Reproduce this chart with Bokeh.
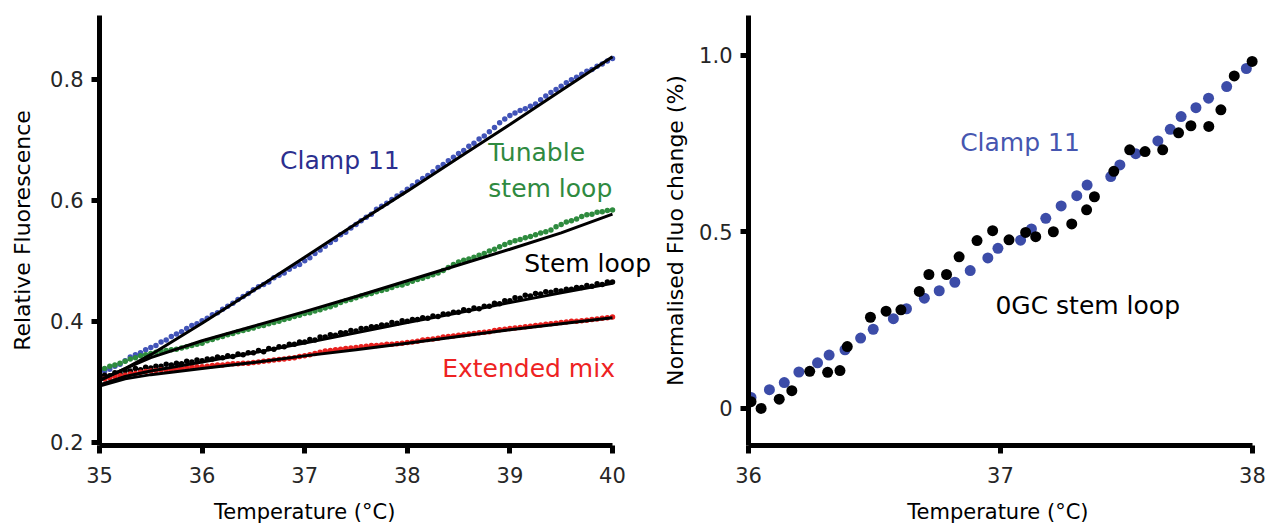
from bokeh.plotting import figure
from bokeh.layouts import row, column
from bokeh.models import Label, FixedTicker
from bokeh.core.properties import value
from bokeh.embed import file_html
from bokeh.resources import INLINE

FONT = "DejaVu Sans"

# ---------------- Left panel data ----------------
temps = [35.00, 35.05, 35.10, 35.15, 35.20, 35.25, 35.30, 35.35, 35.40, 35.45,
         35.50, 35.55, 35.60, 35.65, 35.70, 35.75, 35.80, 35.85, 35.90, 35.95,
         36.00, 36.05, 36.10, 36.15, 36.20, 36.25, 36.30, 36.35, 36.40, 36.45,
         36.50, 36.55, 36.60, 36.65, 36.70, 36.75, 36.80, 36.85, 36.90, 36.95,
         37.00, 37.05, 37.10, 37.15, 37.20, 37.25, 37.30, 37.35, 37.40, 37.45,
         37.50, 37.55, 37.60, 37.65, 37.70, 37.75, 37.80, 37.85, 37.90, 37.95,
         38.00, 38.05, 38.10, 38.15, 38.20, 38.25, 38.30, 38.35, 38.40, 38.45,
         38.50, 38.55, 38.60, 38.65, 38.70, 38.75, 38.80, 38.85, 38.90, 38.95,
         39.00, 39.05, 39.10, 39.15, 39.20, 39.25, 39.30, 39.35, 39.40, 39.45,
         39.50, 39.55, 39.60, 39.65, 39.70, 39.75, 39.80, 39.85, 39.90, 39.95,
         40.00]

clamp11 = [0.315, 0.318, 0.321, 0.326, 0.329, 0.335, 0.341, 0.345, 0.348, 0.353,
           0.357, 0.360, 0.366, 0.369, 0.375, 0.379, 0.383, 0.388, 0.393, 0.396,
           0.401, 0.405, 0.411, 0.414, 0.420, 0.425, 0.430, 0.436, 0.441, 0.446,
           0.452, 0.457, 0.461, 0.465, 0.472, 0.476, 0.480, 0.486, 0.491, 0.494,
           0.500, 0.505, 0.512, 0.518, 0.524, 0.530, 0.535, 0.543, 0.547, 0.554,
           0.560, 0.566, 0.572, 0.577, 0.585, 0.590, 0.595, 0.601, 0.607, 0.612,
           0.618, 0.624, 0.630, 0.636, 0.641, 0.647, 0.654, 0.659, 0.665, 0.671,
           0.677, 0.682, 0.689, 0.694, 0.701, 0.706, 0.713, 0.720, 0.728, 0.734,
           0.740, 0.744, 0.748, 0.751, 0.755, 0.759, 0.766, 0.772, 0.778, 0.783,
           0.788, 0.794, 0.799, 0.803, 0.808, 0.813, 0.816, 0.821, 0.825, 0.830,
           0.834]

tunable = [0.321, 0.322, 0.326, 0.328, 0.331, 0.334, 0.338, 0.340, 0.343, 0.345,
           0.347, 0.349, 0.351, 0.352, 0.353, 0.354, 0.356, 0.358, 0.360, 0.362,
           0.364, 0.368, 0.370, 0.373, 0.375, 0.378, 0.380, 0.383, 0.385, 0.387,
           0.389, 0.392, 0.393, 0.396, 0.398, 0.400, 0.403, 0.405, 0.408, 0.410,
           0.413, 0.414, 0.417, 0.419, 0.422, 0.424, 0.427, 0.431, 0.434, 0.436,
           0.439, 0.442, 0.444, 0.446, 0.449, 0.451, 0.453, 0.456, 0.459, 0.460,
           0.463, 0.466, 0.469, 0.471, 0.474, 0.477, 0.480, 0.484, 0.489, 0.494,
           0.498, 0.501, 0.503, 0.506, 0.509, 0.512, 0.516, 0.519, 0.523, 0.527,
           0.530, 0.533, 0.535, 0.538, 0.540, 0.543, 0.546, 0.548, 0.551, 0.556,
           0.560, 0.564, 0.566, 0.569, 0.573, 0.576, 0.577, 0.580, 0.581, 0.583,
           0.584]

stem_loop = [0.305, 0.311, 0.310, 0.315, 0.314, 0.319, 0.318, 0.322, 0.320, 0.324,
             0.323, 0.326, 0.326, 0.329, 0.328, 0.331, 0.330, 0.334, 0.333, 0.336,
             0.335, 0.338, 0.338, 0.341, 0.340, 0.343, 0.342, 0.346, 0.345, 0.348,
             0.348, 0.352, 0.350, 0.355, 0.354, 0.358, 0.358, 0.362, 0.362, 0.366,
             0.366, 0.370, 0.369, 0.374, 0.374, 0.378, 0.377, 0.381, 0.381, 0.385,
             0.384, 0.388, 0.388, 0.391, 0.391, 0.394, 0.394, 0.398, 0.397, 0.401,
             0.400, 0.403, 0.403, 0.406, 0.405, 0.409, 0.408, 0.412, 0.412, 0.415,
             0.415, 0.419, 0.418, 0.422, 0.421, 0.425, 0.425, 0.430, 0.429, 0.434,
             0.434, 0.439, 0.438, 0.443, 0.442, 0.446, 0.445, 0.449, 0.448, 0.451,
             0.450, 0.453, 0.453, 0.456, 0.456, 0.459, 0.458, 0.462, 0.461, 0.465,
             0.465]

extended = [0.304, 0.305, 0.307, 0.309, 0.310, 0.311, 0.313, 0.314, 0.316, 0.317,
            0.318, 0.319, 0.320, 0.320, 0.321, 0.321, 0.322, 0.323, 0.324, 0.325,
            0.325, 0.326, 0.327, 0.328, 0.328, 0.329, 0.330, 0.330, 0.331, 0.331,
            0.332, 0.333, 0.334, 0.335, 0.336, 0.337, 0.338, 0.339, 0.340, 0.342,
            0.343, 0.345, 0.347, 0.349, 0.351, 0.352, 0.353, 0.354, 0.355, 0.356,
            0.357, 0.358, 0.359, 0.360, 0.360, 0.361, 0.362, 0.362, 0.363, 0.364,
            0.365, 0.366, 0.367, 0.369, 0.370, 0.371, 0.372, 0.374, 0.375, 0.376,
            0.377, 0.378, 0.379, 0.380, 0.381, 0.382, 0.383, 0.385, 0.386, 0.387,
            0.388, 0.389, 0.390, 0.391, 0.392, 0.393, 0.394, 0.395, 0.396, 0.397,
            0.398, 0.399, 0.400, 0.400, 0.401, 0.402, 0.403, 0.404, 0.405, 0.406,
            0.407]

fit_x = [35.0, 35.25, 35.5, 36.0, 36.5, 37.0, 37.5, 38.0, 38.5, 39.0, 39.5, 40.0]
clamp11_fit = [0.302, 0.322, 0.345, 0.397, 0.451, 0.506, 0.561, 0.615, 0.670, 0.725, 0.781, 0.837]
tunable_fit = [0.303, 0.322, 0.340, 0.368, 0.392, 0.416, 0.441, 0.467, 0.493, 0.519, 0.546, 0.577]
stem_fit = [0.295, 0.309, 0.318, 0.333, 0.348, 0.364, 0.381, 0.398, 0.414, 0.431, 0.447, 0.463]
extended_fit = [0.293, 0.305, 0.312, 0.322, 0.332, 0.343, 0.353, 0.364, 0.375, 0.386, 0.396, 0.406]

left_xticks = [35, 36, 37, 38, 39, 40]
left_yticks = [0.2, 0.4, 0.6, 0.8]

# ---------------- Right panel data ----------------
clamp_t = [36.010, 36.083, 36.142, 36.200, 36.274, 36.320, 36.383, 36.445, 36.495, 36.575,
           36.627, 36.698, 36.757, 36.819, 36.880, 36.950, 36.990, 37.080, 37.123, 37.180,
           37.241, 37.303, 37.344, 37.438, 37.474, 37.537, 37.625, 37.674, 37.717, 37.776,
           37.826, 37.898, 37.976]
clamp_norm = [0.031, 0.053, 0.073, 0.103, 0.129, 0.151, 0.166, 0.199, 0.224, 0.254,
              0.282, 0.312, 0.333, 0.357, 0.390, 0.426, 0.453, 0.476, 0.508, 0.538,
              0.573, 0.602, 0.632, 0.656, 0.689, 0.721, 0.757, 0.790, 0.826, 0.851,
              0.878, 0.911, 0.962]

gc0_t = [36.010, 36.050, 36.122, 36.172, 36.243, 36.314, 36.363, 36.392, 36.484, 36.546,
         36.605, 36.678, 36.716, 36.786, 36.836, 36.907, 36.969, 37.034, 37.100, 37.140,
         37.210, 37.283, 37.342, 37.373, 37.450, 37.513, 37.574, 37.644, 37.707, 37.756,
         37.827, 37.875, 37.928, 37.999]
gc0_norm = [0.019, 0.000, 0.026, 0.050, 0.105, 0.102, 0.107, 0.175, 0.258, 0.275,
            0.279, 0.331, 0.379, 0.379, 0.429, 0.475, 0.503, 0.477, 0.498, 0.486,
            0.500, 0.522, 0.562, 0.599, 0.671, 0.732, 0.727, 0.732, 0.780, 0.800,
            0.798, 0.845, 0.941, 0.982]

right_xticks = [36, 37, 38]
right_yticks = [0, 0.5, 1.0]

X_TITLE = "Temperature (°C)"


def style_axes(p):
    for ax in (p.xaxis[0], p.yaxis[0]):
        ax.axis_line_width = 5
        ax.axis_line_color = "black"
        ax.major_tick_line_width = 5
        ax.major_tick_line_color = "black"
        ax.major_tick_out = 8
        ax.major_tick_in = 0
        ax.minor_tick_line_color = None
        ax.major_label_text_font = FONT
        ax.major_label_text_font_size = "21px"
        ax.major_label_text_color = "#262626"
        ax.axis_label_text_font = FONT
        ax.axis_label_text_font_style = "normal"
        ax.axis_label_text_color = "black"
    p.yaxis.axis_label_text_font_size = "22px"
    p.xaxis.major_label_standoff = 13
    p.yaxis.major_label_standoff = 8
    p.grid.visible = False
    p.outline_line_color = None
    p.background_fill_color = "white"
    p.border_fill_color = "white"


def title_strip(main, width, left):
    s = figure(width=width, height=32, x_range=main.x_range, y_range=(0, 1),
               x_axis_type=None, y_axis_type=None, output_backend="svg", toolbar_location=None,
               min_border_left=left, min_border_right=0, min_border_top=0, min_border_bottom=0)
    s.grid.visible = False
    s.outline_line_color = None
    s.text(x=[37.0], y=[0.41], text=[X_TITLE], text_font=value(FONT), text_font_size="21px",
           text_color="black", text_align="center", text_baseline="middle")
    return s


# ---------------- Left figure ----------------
p1 = figure(width=660, height=493, x_range=(35, 40.468), y_range=(0.195, 0.905),
            output_backend="svg", toolbar_location=None,
            min_border_left=99, min_border_right=0, min_border_top=15, min_border_bottom=48)
style_axes(p1)
p1.xaxis.bounds = (35, 40)
p1.xaxis.ticker = FixedTicker(ticks=left_xticks)
p1.yaxis.ticker = FixedTicker(ticks=left_yticks)
p1.yaxis.axis_label = "Relative Fluorescence"
p1.yaxis.axis_label_standoff = 12

BLUE_L = "#4254b8"
GREEN = "#2e8b3e"
RED = "#e8211f"

p1.scatter(temps, clamp11, size=5.5, color=BLUE_L, line_color=None)
p1.scatter(temps, tunable, size=5.5, color=GREEN, line_color=None)
p1.scatter(temps, stem_loop, size=5.5, color="black", line_color=None)
p1.scatter(temps, extended, size=5.5, color=RED, line_color=None)

for fy in (clamp11_fit, tunable_fit, stem_fit, extended_fit):
    p1.line(fit_x, fy, line_width=3, color="black")

lab_kw = dict(text_font=FONT, text_font_size="25px", text_baseline="middle", text_align="left")
p1.add_layout(Label(x=36.76, y=0.666, text="Clamp 11", text_color="#2b2f8f", **lab_kw))
p1.add_layout(Label(x=38.79, y=0.679, text="Tunable", text_color="#2f8a40", **lab_kw))
p1.add_layout(Label(x=38.79, y=0.620, text="stem loop", text_color="#2f8a40", **lab_kw))
p1.add_layout(Label(x=39.14, y=0.496, text="Stem loop", text_color="black", **lab_kw))
p1.add_layout(Label(x=38.34, y=0.322, text="Extended mix", text_color="#ee2222", **lab_kw))

# ---------------- Right figure ----------------
p2 = figure(width=607, height=493, x_range=(36, 38.06), y_range=(-0.105, 1.112),
            output_backend="svg", toolbar_location=None,
            min_border_left=83, min_border_right=0, min_border_top=15, min_border_bottom=48)
style_axes(p2)
p2.xaxis.bounds = (36, 38)
p2.xaxis.ticker = FixedTicker(ticks=right_xticks)
p2.yaxis.ticker = FixedTicker(ticks=right_yticks)
p2.yaxis.major_label_overrides = {0: "0", 0.5: "0.5", 1: "1.0"}
p2.yaxis.axis_label = "Normalised Fluo change (%)"
p2.yaxis.axis_label_standoff = 8

p2.scatter(clamp_t, clamp_norm, size=11, color="#3c4ca8", line_color=None)
p2.scatter(gc0_t, gc0_norm, size=11, color="black", line_color=None)

p2.add_layout(Label(x=36.84, y=0.753, text="Clamp 11", text_color="#4656b0", **lab_kw))
p2.add_layout(Label(x=36.98, y=0.291, text="0GC stem loop", text_color="black", **lab_kw))

s1 = title_strip(p1, 660, 99)
s2 = title_strip(p2, 607, 83)

layout = column(row(p1, p2), row(s1, s2))
open("out.html", "w").write(file_html(layout, INLINE))
